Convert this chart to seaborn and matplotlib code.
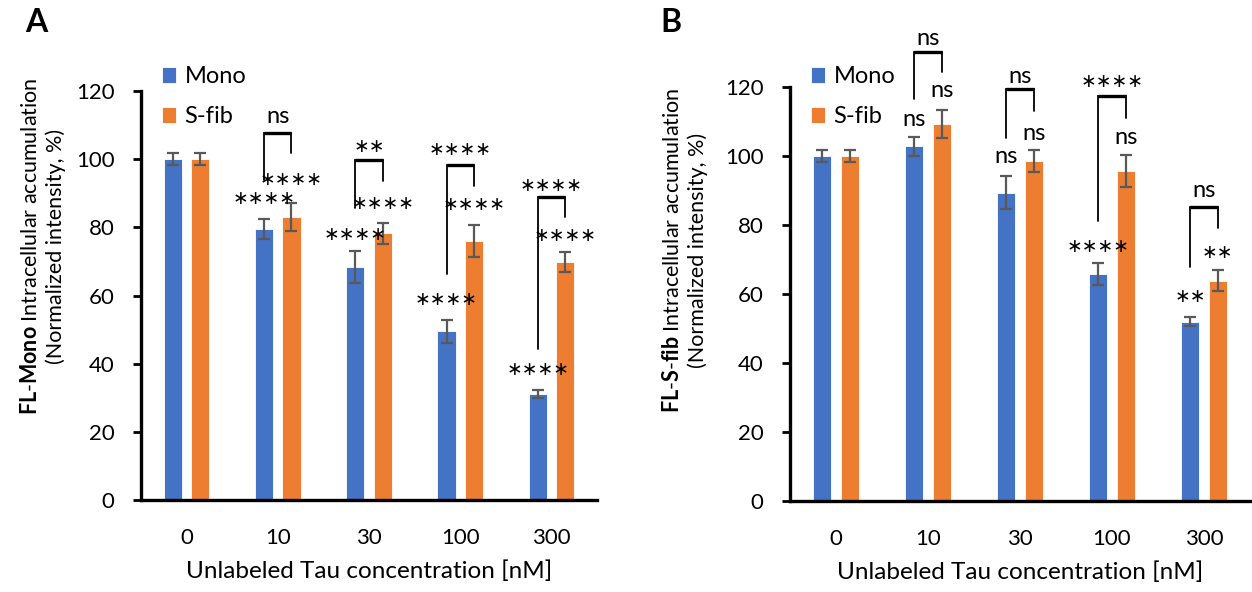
import matplotlib
matplotlib.use("Agg")
import matplotlib.pyplot as plt
import seaborn as sns
import pandas as pd
import numpy as np

# ---------------- data ----------------
concentrations = ["0", "10", "30", "100", "300"]
groups = ["Mono", "S-fib"]

a_mono = [100, 79.5, 68.5, 49.5, 31.1]
a_mono_err = [1.7, 3.0, 4.7, 3.4, 1.3]
a_sfib = [100, 83.0, 78.2, 76.0, 69.8]
a_sfib_err = [1.7, 4.0, 3.2, 4.7, 3.0]

b_mono = [100, 102.8, 89.4, 65.8, 52.0]
b_mono_err = [1.8, 2.7, 4.8, 3.2, 1.3]
b_sfib = [100, 109.3, 98.5, 95.7, 63.9]
b_sfib_err = [1.8, 4.0, 3.2, 4.7, 3.1]

# significance marks (vs. 0 nM) and between-group brackets
a_mono_sig = ["", "****", "****", "****", "****"]
a_mono_sig_y = [0, 88.6, 78.0, 58.9, 38.4]
a_sfib_sig = ["", "****", "****", "****", "****"]
a_sfib_sig_y = [0, 94.0, 87.0, 86.8, 77.7]
a_pair_sig = ["", "ns", "**", "****", "****"]
a_pair_sig_y = [0, 112.6, 103.8, 102.9, 92.4]
a_bracket_top = [0, 107.6, 99.7, 98.2, 88.9]
a_bracket_left = [0, 94.0, 85.6, 66.3, 44.3]
a_bracket_right = [0, 101.8, 93.5, 92.1, 83.0]

b_mono_sig = ["", "ns", "ns", "****", "**"]
b_mono_sig_y = [0, 110.6, 99.8, 73.7, 59.2]
b_sfib_sig = ["", "ns", "ns", "ns", "**"]
b_sfib_sig_y = [0, 118.9, 106.6, 105.4, 72.1]
b_pair_sig = ["", "ns", "ns", "****", "ns"]
b_pair_sig_y = [0, 134.1, 123.0, 121.5, 90.1]
b_bracket_top = [0, 130.2, 119.3, 117.4, 85.3]
b_bracket_left = [0, 116.4, 105.1, 81.2, 67.9]
b_bracket_right = [0, 124.3, 113.1, 111.1, 79.0]

colors = ["#4472C4", "#ED7D31"]

# ---------------- style ----------------
sns.set_theme(style="white")
plt.rcParams["font.family"] = ["Lato", "DejaVu Sans"]
plt.rcParams["mathtext.fontset"] = "custom"
plt.rcParams["mathtext.rm"] = "Lato"
plt.rcParams["mathtext.bf"] = "Lato:bold"

TICK_FS = 16
LAB_FS = 15.5
XLAB_FS = 17.5
STAR_FS = 13.5
NS_FS = 17

fig = plt.figure(figsize=(12.52, 5.92), dpi=100)
W, H = 1252, 592


def axes_px(x0, x1, ytop, ybot):
    return fig.add_axes([x0 / W, (H - ybot) / H, (x1 - x0) / W, (ybot - ytop) / H])


def sig_text(ax, x, y, s):
    if not s:
        return
    if "*" in s:
        ax.text(x, y, "\u2217" * len(s), ha="center", va="center",
                fontsize=STAR_FS, family="DejaVu Sans", color="black",
                clip_on=False)
    else:
        ax.text(x, y, s, ha="center", va="center", fontsize=NS_FS,
                color="black", clip_on=False)


def panel(ax, mono, mono_err, sfib, sfib_err, mono_sig, mono_sig_y,
          sfib_sig, sfib_sig_y, pair_sig, pair_sig_y, b_top, b_left, b_right,
          ylabel, label_x, label_y, legend_y):
    df = pd.DataFrame({
        "conc": concentrations * 2,
        "group": [groups[0]] * 5 + [groups[1]] * 5,
        "value": list(mono) + list(sfib),
    })
    sns.barplot(data=df, x="conc", y="value", hue="group",
                order=concentrations, hue_order=groups, palette=colors,
                width=0.6, gap=0.33, errorbar=None, legend=False,
                edgecolor="white", linewidth=0.6, saturation=1, ax=ax)
    errs = [mono_err, sfib_err]
    centers = []
    for cont, err in zip(ax.containers[:2], errs):
        xs = [p.get_x() + p.get_width() / 2 for p in cont.patches]
        hs = [p.get_height() for p in cont.patches]
        centers.append(xs)
        ax.errorbar(xs, hs, yerr=err, fmt="none", ecolor="#595959",
                    elinewidth=1.6, capsize=4.3, capthick=1.6, zorder=3)
    for i in range(len(concentrations)):
        sig_text(ax, centers[0][i], mono_sig_y[i], mono_sig[i])
        sig_text(ax, centers[1][i], sfib_sig_y[i], sfib_sig[i])
        if pair_sig[i]:
            xl, xr = centers[0][i], centers[1][i]
            ax.plot([xl, xl, xr, xr], [b_left[i], b_top[i], b_top[i], b_right[i]],
                    color="black", lw=1.3, clip_on=False, zorder=4,
                    solid_joinstyle="miter")
            ax.plot([xl, xr], [b_top[i], b_top[i]], color="black", lw=2.4,
                    clip_on=False, zorder=4, solid_capstyle="butt")
            sig_text(ax, (xl + xr) / 2, pair_sig_y[i], pair_sig[i])

    ax.set_ylim(0, 120)
    ax.set_xlim(-0.5, 4.5)
    ax.set_yticks(np.arange(0, 121, 20))
    ax.set_xticks(np.arange(-0.5, 5.0, 1.0))
    ax.set_xticklabels([])
    ax.set_xticks(range(5), minor=True)
    ax.set_xticklabels(concentrations, minor=True)
    ax.tick_params(axis="x", which="major", direction="out", length=7,
                   width=2.4, color="black")
    ax.tick_params(axis="x", which="minor", length=0, pad=20,
                   labelsize=TICK_FS, labelcolor="black")
    ax.tick_params(axis="y", direction="out", length=6, width=2.0,
                   pad=13, labelsize=TICK_FS, labelcolor="black", color="black",
                   left=True)
    for side in ["top", "right"]:
        ax.spines[side].set_visible(False)
    for side in ["left", "bottom"]:
        ax.spines[side].set_color("black")
        ax.spines[side].set_linewidth(2.4)
    ax.set_xlabel("Unlabeled Tau concentration [nM]", fontsize=XLAB_FS,
                  labelpad=9, color="black")
    ax.set_ylabel(ylabel, fontsize=LAB_FS, color="black", linespacing=1.25)
    ax.yaxis.set_label_coords(label_x, label_y)

    leg = ax.legend(handles=list(ax.containers[:2]), labels=groups,
                    loc="upper left", bbox_to_anchor=(0.045, legend_y),
                    frameon=False, fontsize=TICK_FS + 1, handlelength=0.62,
                    handleheight=0.62, handletextpad=0.35, labelspacing=0.8,
                    borderpad=0, borderaxespad=0)
    for t in leg.get_texts():
        t.set_color("black")


axA = axes_px(141, 597, 91, 500)
axB = axes_px(790, 1250, 87, 501)

panel(axA, a_mono, a_mono_err, a_sfib, a_sfib_err,
      a_mono_sig, a_mono_sig_y, a_sfib_sig, a_sfib_sig_y,
      a_pair_sig, a_pair_sig_y, a_bracket_top, a_bracket_left, a_bracket_right,
      "$\\mathbf{FL}$-$\\mathbf{Mono}$ Intracellular accumulation\n(Normalized intensity, %)",
      -0.165, 0.62, 1.06)
panel(axB, b_mono, b_mono_err, b_sfib, b_sfib_err,
      b_mono_sig, b_mono_sig_y, b_sfib_sig, b_sfib_sig_y,
      b_pair_sig, b_pair_sig_y, b_bracket_top, b_bracket_left, b_bracket_right,
      "$\\mathbf{FL}$-$\\mathbf{S}$-$\\mathbf{fib}$ Intracellular accumulation\n(Normalized intensity, %)",
      -0.178, 0.606, 1.05)

fig.text(25 / W, 1 - 8 / H, "A", fontsize=23, fontweight="bold", va="top",
         ha="left", color="black")
fig.text(660 / W, 1 - 8 / H, "B", fontsize=23, fontweight="bold", va="top",
         ha="left", color="black")

fig.savefig("out.png", dpi=100)
